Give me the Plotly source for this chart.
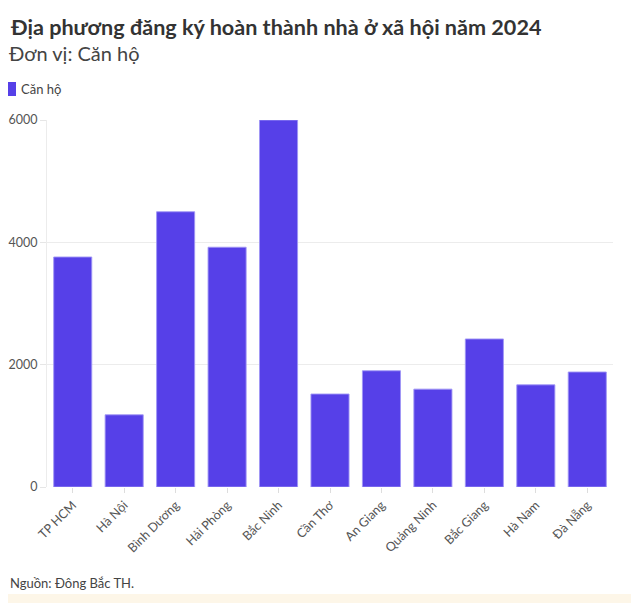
import plotly.graph_objects as go

categories = ["TP HCM", "Hà Nội", "Bình Dương", "Hải Phòng", "Bắc Ninh", "Cần Thơ",
              "An Giang", "Quảng Ninh", "Bắc Giang", "Hà Nam", "Đà Nẵng"]
values = [3760, 1180, 4500, 3920, 6000, 1520, 1900, 1600, 2420, 1670, 1880]
series_name = "Căn hộ"
y_ticks = [0, 2000, 4000, 6000]

FONT = "Lato"
BAR_COLOR = "#5640e8"
OFF = 8  # page body margin
W, H = 639 - OFF, 603 - OFF
# plot area in page pixels: x 47..613, y 120..487
L = 47 - OFF
T = 120 - OFF
R = W - (613 - OFF)
B = H - (487 - OFF)
pw = W - L - R
ph = H - T - B

def px_x(px):  # page pixel -> paper x
    return (px - OFF - L) / pw

def px_y(py):  # page pixel -> paper y
    return (H - B - (py - OFF)) / ph

fig = go.Figure()
fig.add_trace(go.Bar(
    x=categories, y=values, name=series_name,
    marker=dict(color=BAR_COLOR, line=dict(color="rgba(160,150,245,0.9)", width=1)),
    showlegend=False,
))

fig.update_layout(
    width=W, height=H,
    margin=dict(l=L, r=R, t=T, b=B, autoexpand=False),
    paper_bgcolor="#fdf6e8",
    plot_bgcolor="rgba(0,0,0,0)",
    font=dict(family=FONT, size=12, color="#555"),
    bargap=0.26,
    showlegend=False,
    xaxis=dict(tickangle=-45, tickfont=dict(size=12.5, color="#555"),
               ticks="outside", ticklen=5, tickcolor="#ddd", automargin=False,
               showgrid=False, showline=False, zeroline=False),
    yaxis=dict(range=[0, 6000], tickvals=y_ticks, tickfont=dict(size=12.5, color="#555"),
               ticks="outside", ticklen=6, tickcolor="#e6e6e6", automargin=False,
               gridcolor="#ececec", gridwidth=1, zeroline=False,
               showline=True, linecolor="#ececec", linewidth=1),
    shapes=[
        dict(type="rect", xref="paper", yref="paper",
             x0=px_x(0), x1=px_x(634), y0=px_y(594), y1=px_y(0),
             fillcolor="white", line=dict(width=0), layer="below"),
        dict(type="rect", xref="paper", yref="paper",
             x0=px_x(8), x1=px_x(16), y0=px_y(96), y1=px_y(82),
             fillcolor=BAR_COLOR, line=dict(width=0)),
    ],
    annotations=[
        dict(text="<b>Địa phương đăng ký hoàn thành nhà ở xã hội năm 2024</b>",
             xref="paper", yref="paper", x=px_x(8), y=px_y(27), xanchor="left", yanchor="middle",
             showarrow=False, font=dict(size=21.6, color="#333", family=FONT)),
        dict(text="Đơn vị: Căn hộ",
             xref="paper", yref="paper", x=px_x(7), y=px_y(53), xanchor="left", yanchor="middle",
             showarrow=False, font=dict(size=20, color="#444", family=FONT)),
        dict(text=series_name,
             xref="paper", yref="paper", x=px_x(19), y=px_y(89), xanchor="left", yanchor="middle",
             showarrow=False, font=dict(size=13, color="#444", family=FONT)),
        dict(text="Nguồn: Đông Bắc TH.",
             xref="paper", yref="paper", x=px_x(8), y=px_y(583), xanchor="left", yanchor="middle",
             showarrow=False, font=dict(size=13, color="#444", family=FONT)),
    ],
)

fig.write_html("out.html")
